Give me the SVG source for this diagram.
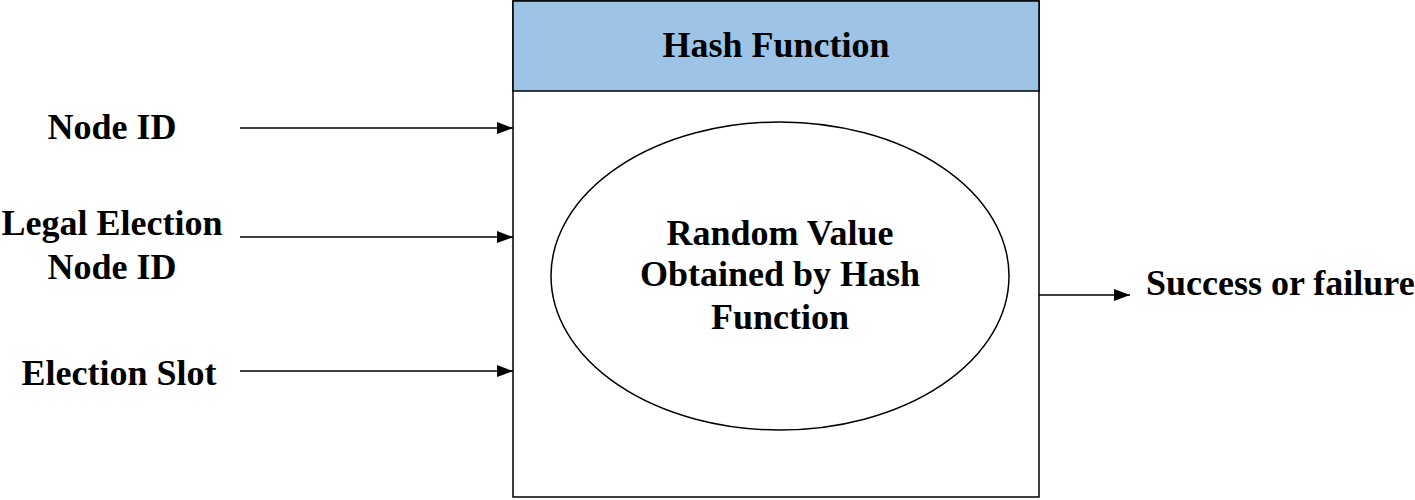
<svg xmlns="http://www.w3.org/2000/svg" width="1415" height="500" viewBox="0 0 1415 500">
<style>
  text { font-family: "Liberation Serif", "Times New Roman", Times, "DejaVu Serif", serif; font-weight: 700; font-size: 36px; fill: #000; }
  .c { text-anchor: middle; }
  .ln { stroke: #000; stroke-width: 1.5; fill: none; }
</style>
<defs>
  <marker id="ah" markerWidth="16" markerHeight="12" refX="16" refY="6" orient="auto" markerUnits="userSpaceOnUse">
    <path d="M0,0 L16,6 L0,12 Z" fill="#000"/>
  </marker>
</defs>
<rect width="1415" height="500" fill="#fff"/>
<g id="hash-function">
  <rect x="513" y="1" width="526" height="496" fill="#fff" stroke="#000" stroke-width="1.5"/>
  <rect x="513" y="1" width="526" height="90" fill="#9DC3E6" stroke="#000" stroke-width="1.5"/>
  <text class="c" x="776" y="57">Hash Function</text>
</g>
<g id="random-value">
  <ellipse cx="780" cy="276" rx="229" ry="154" fill="#fff" stroke="#000" stroke-width="1.5"/>
  <text class="c" x="780" y="245">Random Value</text>
  <text class="c" x="780" y="286">Obtained by Hash</text>
  <text class="c" x="780" y="329">Function</text>
</g>
<g id="node-id">
  <text class="c" x="112" y="139">Node ID</text>
</g>
<g id="legal-election-node-id">
  <text class="c" x="112" y="235">Legal Election</text>
  <text class="c" x="112" y="279">Node ID</text>
</g>
<g id="election-slot">
  <text class="c" x="119" y="385">Election Slot</text>
</g>
<g id="success-or-failure">
  <text x="1146" y="295">Success or failure</text>
</g>
<g id="connectors">
  <line class="ln" x1="240" y1="128" x2="513" y2="128" marker-end="url(#ah)"/>
  <line class="ln" x1="240" y1="237" x2="513" y2="237" marker-end="url(#ah)"/>
  <line class="ln" x1="240" y1="371" x2="513" y2="371" marker-end="url(#ah)"/>
  <line class="ln" x1="1039" y1="295" x2="1130" y2="295" marker-end="url(#ah)"/>
</g>
</svg>
